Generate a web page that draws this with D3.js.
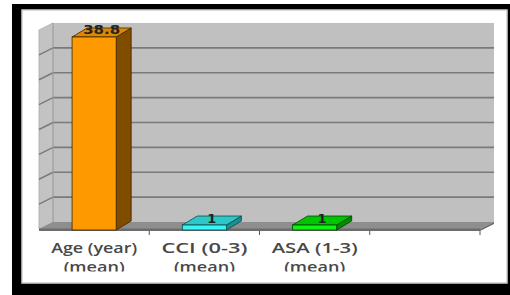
<!DOCTYPE html>
<html>
<head>
<meta charset="utf-8">
<script src="https://cdn.jsdelivr.net/npm/d3@7"></script>
<style>
  html, body { margin: 0; padding: 0; background: #fff; }
  svg { display: block; }
</style>
</head>
<body>
<script>
const categories = ['Age (year)|(mean)', 'CCI (0-3)|(mean)', 'ASA (1-3)|(mean)', ''];
const values = [38.8, 1, 1, null];
const valueLabels = ['38.8', '1', '1', ''];
const yTicks = [0, 5, 10, 15, 20, 25, 30, 35, 40];
const palette = [
  { front: '#ff9900', top: '#dc8800', side: '#7f4c00', edge: '#3d2600' },
  { front: '#38f4f4', top: '#2ec6c6', side: '#1c8f8f', edge: '#0c4a4a' },
  { front: '#11f011', top: '#00c400', side: '#008c00', edge: '#004400' },
  null
];

const width = 510, height = 295;
const DX = 14, DY = 7;       // wall depth
const BDX = 15, BDY = 9;     // bar depth
const wallLeft = 53, wallRight = 494;

const svg = d3.select('body').append('svg')
  .attr('width', width)
  .attr('height', height);

// frame
svg.append('rect').attr('x', 12).attr('y', 4).attr('width', 498).attr('height', 291).attr('fill', '#000');
svg.append('rect').attr('x', 22).attr('y', 10).attr('width', 485).attr('height', 273)
  .attr('fill', '#fff').attr('stroke', '#cfcfcf').attr('stroke-width', 1.5);

const y = d3.scaleLinear().domain([0, 40]).range([222, 23]);
const x = d3.scaleBand().domain(d3.range(categories.length))
  .range([wallLeft - DX, wallRight - DX]).paddingInner(0).paddingOuter(0);

// back wall
svg.append('rect')
  .attr('x', wallLeft).attr('y', y(40))
  .attr('width', wallRight - wallLeft).attr('height', y(0) - y(40))
  .attr('fill', '#c0c0c0');

// left wall
svg.append('polygon')
  .attr('points', [[wallLeft - DX, y(40) + DY], [wallLeft, y(40)], [wallLeft, y(0)], [wallLeft - DX, y(0) + DY]].join(' '))
  .attr('fill', '#c3c3c3')
  .attr('stroke', '#a8a8a8').attr('stroke-width', 0.8);

// gridlines
const grid = svg.append('g');
yTicks.filter((t) => t > 0 && t < 40).forEach((t) => {
  grid.append('line')
    .attr('x1', wallLeft).attr('x2', wallRight)
    .attr('y1', y(t)).attr('y2', y(t))
    .attr('stroke', '#7a7a7a').attr('stroke-width', 1.6);
  grid.append('line')
    .attr('x1', wallLeft - DX).attr('x2', wallLeft)
    .attr('y1', y(t) + DY).attr('y2', y(t))
    .attr('stroke', '#7a7a7a').attr('stroke-width', 1.4);
});
grid.append('line')
  .attr('x1', wallLeft).attr('x2', wallLeft)
  .attr('y1', y(40)).attr('y2', y(0))
  .attr('stroke', '#a0a0a0').attr('stroke-width', 1);

// floor
svg.append('polygon')
  .attr('points', [[wallLeft, y(0)], [wallRight, y(0)], [wallRight - DX, y(0) + DY], [wallLeft - DX, y(0) + DY]].join(' '))
  .attr('fill', '#8e8e8e');
svg.append('rect')
  .attr('x', wallLeft - DX).attr('y', y(0) + DY - 0.5)
  .attr('width', wallRight - wallLeft).attr('height', 2.5)
  .attr('fill', '#6c6c6c');
svg.append('polygon')
  .attr('points', [[wallRight, y(0)], [wallRight, y(0) + 2], [wallRight - DX, y(0) + DY + 2], [wallRight - DX, y(0) + DY]].join(' '))
  .attr('fill', '#6c6c6c');

// category ticks
d3.range(1, categories.length + 1).forEach((i) => {
  const tx = i < categories.length ? x(i) : x(i - 1) + x.bandwidth();
  svg.append('line')
    .attr('x1', tx).attr('x2', tx)
    .attr('y1', y(0) + DY + 2).attr('y2', y(0) + DY + 6)
    .attr('stroke', '#555').attr('stroke-width', 1);
});

// bars
const base = y(0) + 8;
const barW = x.bandwidth() * 0.4;
const bars = svg.append('g');
values.forEach((v, i) => {
  if (v == null) return;
  const c = palette[i];
  const x0 = x(i) + (x.bandwidth() - barW) / 2;
  const x1 = x0 + barW;
  const top = y(v) + 8;
  bars.append('polygon')
    .attr('points', [[x1, top], [x1 + BDX, top - BDY], [x1 + BDX, base - BDY], [x1, base]].join(' '))
    .attr('fill', c.side).attr('stroke', c.edge).attr('stroke-width', 0.8);
  bars.append('polygon')
    .attr('points', [[x0, top], [x0 + BDX, top - BDY], [x1 + BDX, top - BDY], [x1, top]].join(' '))
    .attr('fill', c.top).attr('stroke', c.edge).attr('stroke-width', 0.8);
  bars.append('rect')
    .attr('x', x0).attr('y', top)
    .attr('width', barW).attr('height', base - top)
    .attr('fill', c.front).attr('stroke', c.edge).attr('stroke-width', 0.8);

  const lab = valueLabels[i];
  bars.append('text')
    .attr('x', x0 + barW / 2 + BDX / 2)
    .attr('y', top - BDY / 2 + 2)
    .attr('text-anchor', 'middle')
    .attr('font-family', 'DejaVu Sans, sans-serif')
    .attr('font-size', 13)
    .attr('font-weight', 'bold')
    .attr('fill', '#222')
    .attr('textLength', lab.length > 1 ? 37 : null)
    .attr('lengthAdjust', 'spacingAndGlyphs')
    .text(lab);
});

// category labels
svg.append('clipPath').attr('id', 'clip')
  .append('rect').attr('x', 22).attr('y', 236).attr('width', 485).attr('height', 35.5);
const labels = svg.append('g').attr('clip-path', 'url(#clip)');
categories.forEach((cat, i) => {
  if (!cat) return;
  const lines = cat.split('|');
  const cx = x(i) + x.bandwidth() / 2;
  lines.forEach((ln, j) => {
    labels.append('text')
      .attr('x', cx)
      .attr('y', 253 + j * 19)
      .attr('text-anchor', 'middle')
      .attr('font-family', 'Open Sans, sans-serif')
      .attr('font-size', 14.5)
      .attr('font-weight', 600)
      .attr('fill', '#484848')
      .attr('textLength', j === 0 ? 86 : 61)
      .attr('lengthAdjust', 'spacingAndGlyphs')
      .text(ln);
  });
});
</script>
</body>
</html>
